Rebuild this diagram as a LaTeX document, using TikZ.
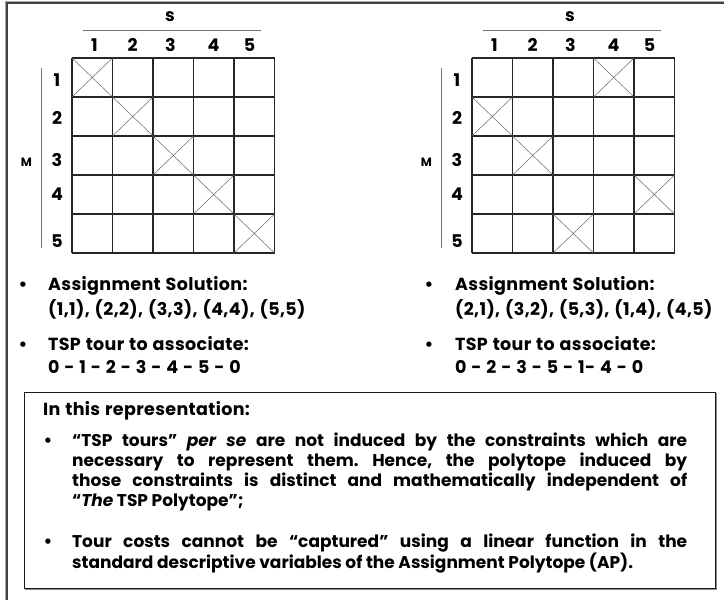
\documentclass[tikz,border=0pt]{standalone}
\usepackage{fontspec}
\setmainfont{Poppins}
\newfontfamily\widefont[LetterSpace=2,WordSpace=1.2]{Poppins}
\newcommand{\gridw}{40.5}
\newcommand{\gridh}{39}
\frenchspacing
\begin{document}
\begin{tikzpicture}[x=1pt,y=-1pt,
  gridline/.style={line width=1.4pt, black!85},
  crossline/.style={line width=0.5pt, black!60},
  rule/.style={line width=0.8pt, black!55},
  frameline/.style={line width=2pt, black!75},
  lbl/.style={font=\fontsize{17.5}{20}\selectfont\bfseries, inner sep=0, anchor=base},
  small/.style={font=\fontsize{12}{14}\selectfont\bfseries, inner sep=0, anchor=base},
  txt/.style={font=\widefont\fontsize{17.5}{20}\selectfont\bfseries, inner sep=0, anchor=base west},
  para/.style={font=\fontsize{17}{20}\selectfont\bfseries, inner sep=0, anchor=base west},
  bul/.style={font=\fontsize{17.5}{20}\selectfont\bfseries, inner sep=0, anchor=base}]
\useasboundingbox (0,0) rectangle (724,600);
% outer frame (cut at right and bottom)
\draw[line width=1pt, black!35] (5,610) -- (5,1.5) -- (730,1.5);
\draw[frameline] (6.8,610) -- (6.8,3.2) -- (730,3.2);

% ---------- grids ----------
\foreach \gx/\name in {72/L, 472/R}{
  \begin{scope}[shift={(\gx,58)}]
    \foreach \i in {0,...,5}{
      \draw[gridline] (\i*\gridw,0) -- (\i*\gridw,5*\gridh);
      \draw[gridline] (0,\i*\gridh) -- (5*\gridw,\i*\gridh);
    }
    \node[lbl] (\name s) at (98,-37) {s};
    \coordinate (\name sa) at (11,-28);
    \coordinate (\name sb) at (189,-28);
    \draw[rule] (\name sa) -- (\name sb);
    \foreach \c/\cx in {1/22.5,2/60.5,3/98.5,4/141.5,5/177.5}{
      \node[lbl] (\name c\c) at (\cx,-7) {\c};
    }
    \foreach \r/\ry in {1/28,2/66,3/108,4/142,5/189}{
      \node[lbl] (\name r\r) at (-15,\ry) {\r};
    }
    \coordinate (\name ma) at (-30.5,10);
    \coordinate (\name mb) at (-30.5,190);
    \draw[rule, line width=1pt] (\name ma) -- (\name mb);
    \node[small] (\name m) at (-45.5,108) {M};
  \end{scope}
}
% crosses
\foreach \gx/\c/\r in {72/1/1,72/2/2,72/3/3,72/4/4,72/5/5,
                      472/4/1,472/1/2,472/2/3,472/5/4,472/3/5}{
  \begin{scope}[shift={(\gx,58)}]
    \draw[crossline] ({(\c-1)*\gridw},{(\r-1)*\gridh}) -- ({\c*\gridw},{\r*\gridh});
    \draw[crossline] ({\c*\gridw},{(\r-1)*\gridh}) -- ({(\c-1)*\gridw},{\r*\gridh});
  \end{scope}
}

% ---------- bullet texts under grids ----------
\node[bul] (lb1) at (23,290) {•};
\node[txt] (la1) at (48,290) {Assignment Solution:};
\node[txt] (la2) at (48,315) {(1,1), (2,2), (3,3), (4,4), (5,5)};
\node[bul] (lb2) at (23,350) {•};
\node[txt] (lt1) at (48,350) {TSP tour to associate:};
\node[txt] (lt2) at (48,373) {0 - 1 - 2 - 3 - 4 - 5 - 0};

\node[bul] (rb1) at (429,290) {•};
\node[txt] (ra1) at (455,290) {Assignment Solution:};
\node[txt] (ra2) at (455,315) {(2,1), (3,2), (5,3), (1,4), (4,5)};
\node[bul] (rb2) at (429,350) {•};
\node[txt] (rt1) at (455,350) {TSP tour to associate:};
\node[txt] (rt2) at (455,373) {0 - 2 - 3 - 5 - 1- 4 - 0};

% ---------- bottom box ----------
\draw[line width=1.6pt, black!45] (26,394) rectangle (716.5,589.5);
\draw[line width=1pt, black!90, fill=white] (24,392) rectangle (715,588);
\node[txt] (intro) at (43,415) {In this representation:};
\node[bul] (bb1) at (48,446) {•};
\node[para] (p1) at (72,446) {\parbox[t]{615pt}{\hyphenpenalty=10000\emergencystretch=3em
  “TSP tours” \textit{per se} are not induced by the constraints which are\linebreak
  necessary to represent them. Hence, the polytope induced by\linebreak
  those constraints is distinct and mathematically independent of\linebreak
  “\textit{The} TSP Polytope”;}};
\node[bul] (bb2) at (48,547) {•};
\node[para] (p2) at (72,547) {\parbox[t]{615pt}{\hyphenpenalty=10000\emergencystretch=3em
  Tour costs cannot be “captured” using a linear function in the\linebreak
  standard descriptive variables of the Assignment Polytope (AP).}};
\end{tikzpicture}
\end{document}
